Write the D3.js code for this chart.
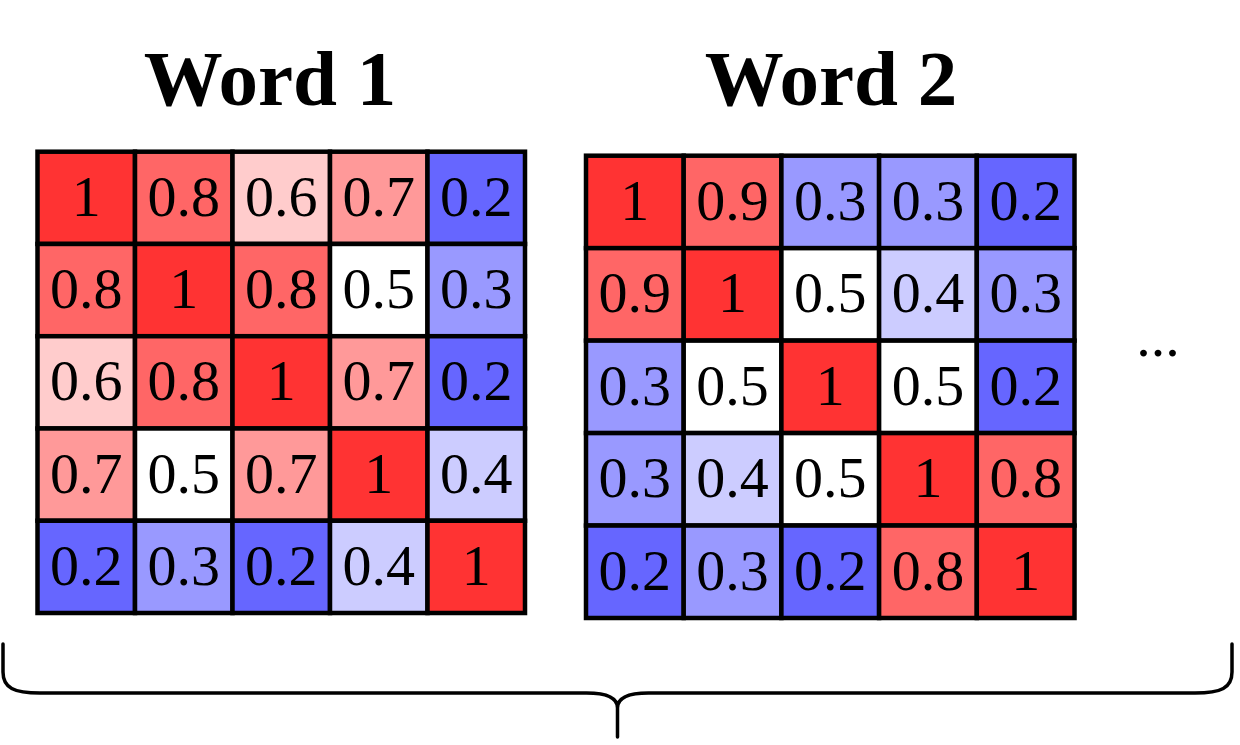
<!DOCTYPE html>
<html>
<head>
<meta charset="utf-8">
<script src="https://cdn.jsdelivr.net/npm/d3@7"></script>
<style>
  html, body { margin: 0; padding: 0; background: #fff; }
  svg { display: block; }
</style>
</head>
<body>
<svg id="chart" width="1240" height="745"></svg>
<script>
// ---- data ----
const titles = ["Word 1", "Word 2"];
const rowIndex = [0, 1, 2, 3, 4];
const colIndex = [0, 1, 2, 3, 4];
const word1Values = [
  [1, 0.8, 0.6, 0.7, 0.2],
  [0.8, 1, 0.8, 0.5, 0.3],
  [0.6, 0.8, 1, 0.7, 0.2],
  [0.7, 0.5, 0.7, 1, 0.4],
  [0.2, 0.3, 0.2, 0.4, 1]
];
const word2Values = [
  [1, 0.9, 0.3, 0.3, 0.2],
  [0.9, 1, 0.5, 0.4, 0.3],
  [0.3, 0.5, 1, 0.5, 0.2],
  [0.3, 0.4, 0.5, 1, 0.8],
  [0.2, 0.3, 0.2, 0.8, 1]
];
const colorDomain = [0.2, 0.3, 0.4, 0.5, 0.6, 0.7, 0.8, 0.9, 1];
const colorRange = ["#6666ff", "#9999ff", "#ccccff", "#ffffff", "#ffcccc", "#ff9999", "#ff6666", "#ff6666", "#ff3333"];
const ellipsisText = "...";

(function () {
// ---- layout ----
const panels = [
  { title: titles[0], values: word1Values, x0: 37.5, x1: 525, y0: 151.7, y1: 613, titleX: 270 },
  { title: titles[1], values: word2Values, x0: 586, x1: 1074.5, y0: 155.7, y1: 618, titleX: 831 }
];

const color = d3.scaleOrdinal().domain(colorDomain).range(colorRange);
const fmt = v => (v === 1 ? "1" : d3.format(".1f")(v));

const svg = d3.select("#chart");

panels.forEach(p => {
  const x = d3.scaleBand().domain(colIndex).range([p.x0, p.x1]).padding(0);
  const y = d3.scaleBand().domain(rowIndex).range([p.y0, p.y1]).padding(0);
  const g = svg.append("g");

  g.append("text")
    .attr("x", p.titleX)
    .attr("y", 105)
    .attr("text-anchor", "middle")
    .attr("font-family", "'Liberation Serif', 'Times New Roman', serif")
    .attr("font-weight", "bold")
    .attr("font-size", 79)
    .attr("fill", "#000")
    .text(p.title);

  const cells = [];
  p.values.forEach((row, r) => row.forEach((v, c) => cells.push({ r, c, v })));

  g.selectAll("rect.cell").data(cells).enter().append("rect")
    .attr("class", "cell")
    .attr("x", d => x(d.c))
    .attr("y", d => y(d.r))
    .attr("width", x.bandwidth())
    .attr("height", y.bandwidth())
    .attr("fill", d => color(d.v))
    .attr("stroke", "#000")
    .attr("stroke-width", 4.5);

  g.selectAll("text.val").data(cells).enter().append("text")
    .attr("class", "val")
    .attr("x", d => x(d.c) + x.bandwidth() / 2)
    .attr("y", d => y(d.r) + y.bandwidth() / 2 + 18)
    .attr("text-anchor", "middle")
    .attr("font-family", "'Liberation Serif', 'Times New Roman', serif")
    .attr("font-size", 58)
    .attr("fill", "#000")
    .text(d => fmt(d.v));
});

// ellipsis
svg.append("text")
  .attr("x", 1158)
  .attr("y", 356)
  .attr("text-anchor", "middle")
  .attr("font-family", "'Liberation Serif', 'Times New Roman', serif")
  .attr("font-size", 58)
  .attr("fill", "#000")
  .text(ellipsisText);

// curly brace
const bl = 3, br = 1232, bm = (bl + br) / 2, bTop = 644, hy = 693, tip = 737;
const brace = d3.path();
brace.moveTo(bl, bTop);
brace.lineTo(bl, 672);
brace.bezierCurveTo(bl, 688, bl + 11, hy, bl + 37, hy);
brace.lineTo(bm - 31, hy);
brace.bezierCurveTo(bm - 11, hy, bm, hy + 5, bm, hy + 15);
brace.lineTo(bm, tip);
brace.moveTo(br, bTop);
brace.lineTo(br, 672);
brace.bezierCurveTo(br, 688, br - 11, hy, br - 37, hy);
brace.lineTo(bm + 31, hy);
brace.bezierCurveTo(bm + 11, hy, bm, hy + 5, bm, hy + 15);

svg.append("path")
  .attr("d", brace.toString())
  .attr("fill", "none")
  .attr("stroke", "#000")
  .attr("stroke-width", 3.5)
  .attr("stroke-linecap", "round")
  .attr("stroke-linejoin", "round");
})();
</script>
</body>
</html>
